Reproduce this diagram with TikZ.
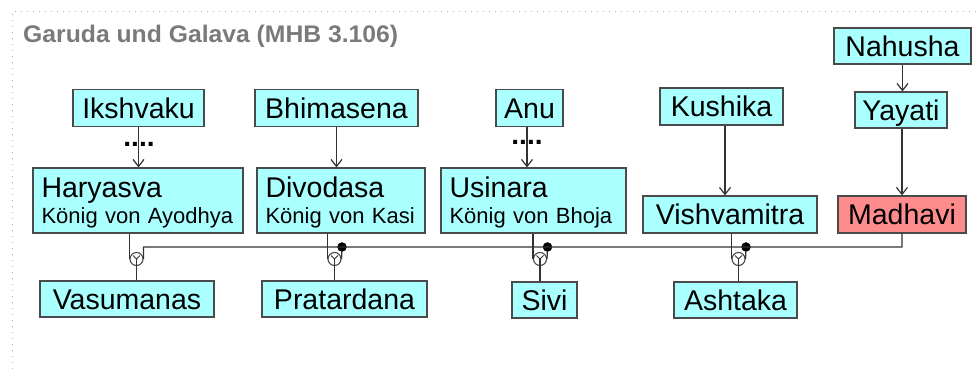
\documentclass[tikz,border=0pt]{standalone}
\usepackage{fontspec}
\setmainfont{Liberation Sans}
\usetikzlibrary{arrows.meta}

\definecolor{boxcyan}{HTML}{AAFFFF}
\definecolor{boxsalmon}{HTML}{FF8C8C}
\definecolor{edge}{HTML}{333333}
\definecolor{rim}{HTML}{4A4A4A}
\definecolor{titlegray}{HTML}{7A7A7A}
\definecolor{framegray}{HTML}{B0B0B0}

\newcommand\bigtxt{\fontsize{28.5}{32}\selectfont}
\newcommand\smalltxt{\fontsize{22}{26}\selectfont}
\newcommand\tallstrut{\rule{0pt}{25pt}}

\begin{document}
\begin{tikzpicture}[x=1pt,y=-1pt,
  person/.style={draw=rim, line width=1.2pt, fill=boxcyan, inner sep=0pt,
    font=\bigtxt, text height=20.5pt, text depth=0pt, minimum height=37pt},
  king/.style={draw=rim, line width=1.2pt, fill=boxcyan, inner xsep=8.5pt,
    inner ysep=0pt, align=left, font=\smalltxt, minimum height=65pt},
  link/.style={draw=edge, line width=1.2pt},
  descent/.style={link, -{Straight Barb[length=7pt,width=11pt]}},
  union/.style={circle, draw=rim, line width=1.1pt, minimum size=13pt, inner sep=0pt},
  knot/.style={circle, draw=black, fill=black, minimum size=9pt, inner sep=0pt},
  gap/.style={font=\bfseries\fontsize{28}{30}\selectfont, anchor=base, inner sep=0pt},
]
\useasboundingbox (0,0) rectangle (976,369);

% dotted frame
\draw[framegray, line width=1pt, dash pattern=on 1pt off 5pt] (976,12) -- (12,12) -- (12,369);

% title
\node[anchor=base west, text=titlegray, inner sep=0pt,
      font=\bfseries\fontsize{24}{27}\selectfont] (title) at (23,43)
      {\scalebox{1.03}[1]{Garuda und Galava (MHB 3.106)}};

% ancestors
\node[person, minimum width=131pt] (ik)  at (138.5,108) {Ikshvaku};
\node[person, minimum width=163pt] (bhi) at (336.5,108) {Bhimasena};
\node[person, minimum width=67pt]  (anu) at (529.5,108) {Anu};
\node[person, minimum width=123pt] (kus) at (721.5,106.5) {Kushika};
\node[person, minimum width=137pt, minimum height=36pt] (nah) at (902.5,46) {Nahusha};
\node[person, minimum width=92pt,  minimum height=36pt] (yay) at (901,110) {Yayati};

% kings and parents
\node[king, text width=193pt] (har) at (138,200.5)
  {{\bigtxt\tallstrut Haryasva}\\König von Ayodhya};
\node[king, text width=151pt] (div) at (341,200.5)
  {{\bigtxt\tallstrut Divodasa}\\König von Kasi};
\node[king, text width=168pt] (usi) at (533.5,200.5)
  {{\bigtxt\tallstrut Usinara}\\König von Bhoja};
\node[person, minimum width=174pt] (vis) at (730,214.5) {Vishvamitra};
\node[person, minimum width=128pt, fill=boxsalmon] (mad) at (902,214.5) {Madhavi};

% sons
\node[person, minimum width=174pt, minimum height=36pt] (vas) at (127,299) {Vasumanas};
\node[person, minimum width=165pt, minimum height=36pt] (pra) at (344.5,299) {Pratardana};
\node[person, minimum width=65pt,  minimum height=36pt] (siv) at (544.5,300) {Sivi};
\node[person, minimum width=123pt, minimum height=36pt] (ash) at (735.5,300) {Ashtaka};

% lines of descent
\draw[descent] (ik.south) -- (ik.south |- har.north);
\draw[descent] (bhi.south) -- (bhi.south |- div.north);
\draw[descent] ([xshift=-2.5pt]anu.south) -- ([xshift=-2.5pt]anu.south |- usi.north);
\draw[descent] ([xshift=3.5pt]kus.south) -- ([xshift=3.5pt]kus.south |- vis.north);
\draw[descent] (nah.south) -- (nah.south |- yay.north);
\draw[descent] (yay.south -| mad.north) -- (mad.north);

% skipped generations
\node[gap] (ikgap)  at (139,146) {....};
\node[gap] (anugap) at (527,144) {....};

% unions
\node[union] (u1) at (136.5,259) {};
\node[union] (u2) at (334.5,259) {};
\node[union] (u3) at (540,259) {};
\node[union] (u4) at (738.5,259) {};
\node[knot] (k2) at (342,247) {};
\node[knot] (k3) at (547.5,247) {};
\node[knot] (k4) at (746,247) {};
\coordinate (bend) at (143.5,247);

% Madhavi's line running to each union
\draw[link] (mad.south) |- (bend) -- (u1.east);
\draw[link] (k2) -- (u2.east);
\draw[link] (k3) -- (u3.east);
\draw[link] (k4) -- (u4.east);

% fathers
\draw[link] (u1.west |- har.south) -- (u1.west);
\draw[link] (u2.west |- div.south) -- (u2.west);
\draw[link] (u3.west |- usi.south) -- (u3.west);
\draw[link] (u4.west |- vis.south) -- (u4.west);

% forks inside the unions and the sons below
\foreach \u/\c in {u1/vas, u2/pra, u3/siv, u4/ash} {
  \draw[link, line width=1pt] ([shift={(-3.5,-3.5)}]\u.center) -- (\u.center)
        -- ([shift={(3.5,-3.5)}]\u.center);
  \draw[link] (\u.center) -- (\u.center |- \c.north);
}
\end{tikzpicture}
\end{document}
